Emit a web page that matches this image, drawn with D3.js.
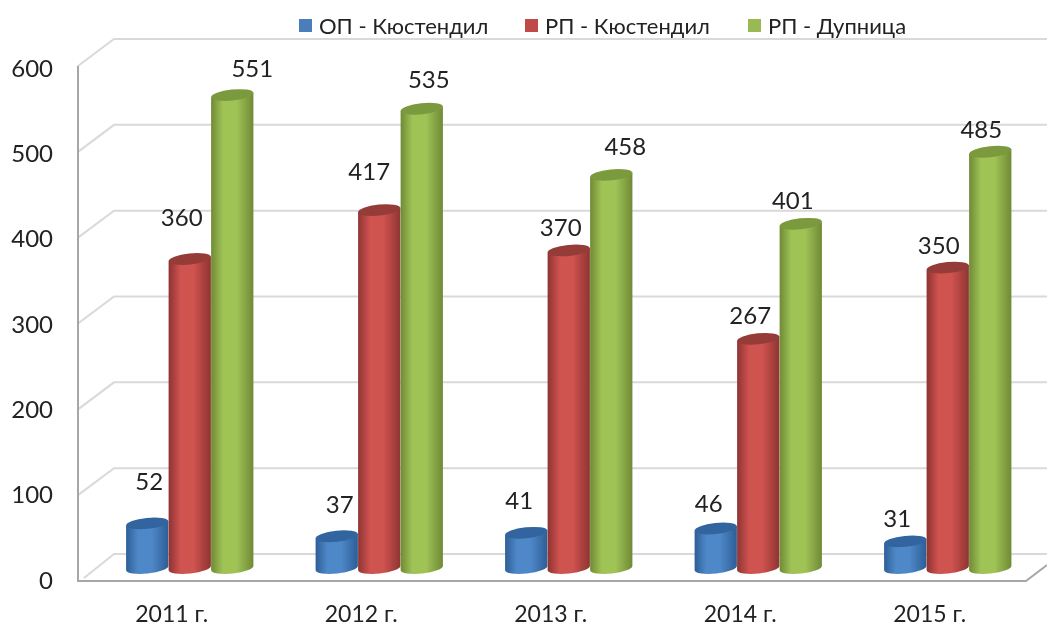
<!DOCTYPE html>
<html><head><meta charset="utf-8">
<script src="https://cdn.jsdelivr.net/npm/d3@7/dist/d3.min.js"></script>
<style>html,body{margin:0;padding:0;background:#fff}svg{display:block}text{font-family:Lato,"Open Sans",sans-serif;fill:#222}</style>
</head><body><svg id="c" width="1047" height="627"></svg>
<script>
const categories=["2011 г.","2012 г.","2013 г.","2014 г.","2015 г."];
const seriesNames=["ОП - Кюстендил","РП - Кюстендил","РП - Дупница"];
const opKyustendil=[52,37,41,46,31];
const rpKyustendil=[360,417,370,267,350];
const rpDupnitsa=[551,535,458,401,485];
const yTicks=[0,100,200,300,400,500,600];
const seriesValues=[opKyustendil,rpKyustendil,rpDupnitsa];

const palette=[
 {edge:"#2c5e96",mid:"#4f88c8",top:"#32659f",key:"#4a7ebb"},
 {edge:"#8e3432",mid:"#cf524f",top:"#953a38",key:"#be4b48"},
 {edge:"#6f8a35",mid:"#a0c356",top:"#7a9a3c",key:"#98b954"}];
// label displacement from the bar's top centre
const labelShift=[
 [[2,-42],[-8,-42],[20,-27]],
 [[3,-32],[-10,-39],[7,-29]],
 [[-7,-32],[-8,-23],[14,-29]],
 [[-7,-25],[-8,-23],[-8,-23]],
 [[-8,-23],[-9,-22],[-9,-22]]];

const svg=d3.select("#c");
const W0=78,BACK=36,DY=27,FLOOR=581,TOP=66;
const y=d3.scaleLinear().domain([0,600]).range([FLOOR,TOP]);
const yLabel=d3.scaleLinear().domain([0,600]).range([580,68]);
const x0=d3.scaleBand().domain(categories).range([95,1042.5]).paddingInner(.327).paddingOuter(.1635);
const x1=d3.scaleBand().domain(d3.range(3)).range([0,x0.bandwidth()]);
const BASE_SHIFT=13;
const vy=v=>y(v)-BASE_SHIFT;

const defs=svg.append("defs");
palette.forEach((p,i)=>{
 const g=defs.append("linearGradient").attr("id","g"+i);
 [[0,p.edge],[.28,p.mid],[.6,p.mid],[1,p.edge]].forEach(s=>g.append("stop").attr("offset",s[0]).attr("stop-color",s[1]));
});
defs.append("filter").attr("id","soft").append("feGaussianBlur").attr("stdDeviation",.5);

// walls
const wall=svg.append("g").attr("filter","url(#soft)");
yTicks.forEach(t=>{
 if(t===0)return;
 wall.append("path").attr("d",`M${W0},${y(t)}L${W0+BACK},${y(t)-DY}H1047`).attr("fill","none").attr("stroke","#d9d9d9").attr("stroke-width",2);
});
wall.append("path").attr("d",`M${W0+6},${FLOOR-3}L${W0+BACK},${y(0)-DY}H1047`).attr("fill","none").attr("stroke","#d9d9d9").attr("stroke-width",2);
wall.append("path").attr("d",`M${W0},${TOP}V${FLOOR}H1026L1047,565`).attr("fill","none").attr("stroke","#a6a6a6").attr("stroke-width",2);

// bars
const rx=x1.bandwidth()/2, ry=5.5, tilt=6, dx=rx*Math.cos(tilt*Math.PI/180), dyy=rx*Math.sin(tilt*Math.PI/180);
const bars=svg.append("g").attr("filter","url(#soft)");
seriesValues.forEach((vals,s)=>{
 vals.forEach((v,i)=>{
  const c=x0(categories[i])+x1(s)+x1.bandwidth()/2, t=vy(v), b=vy(0);
  bars.append("path").attr("fill",`url(#g${s})`).attr("d",
   `M${c-dx},${t+dyy}L${c-dx},${b+dyy}A${rx},${ry} ${-tilt} 0 0 ${c+dx},${b-dyy}L${c+dx},${t-dyy}Z`);
  bars.append("ellipse").attr("fill",palette[s].top)
   .attr("rx",rx).attr("ry",ry).attr("transform",`translate(${c},${t}) rotate(${-tilt})`);
 });
});

// y labels
svg.append("g").selectAll("text").data(yTicks).join("text")
 .attr("x",53).attr("y",d=>yLabel(d)).attr("dy","0.36em").attr("text-anchor","end").attr("font-size",24).text(d=>d);
// x labels
svg.append("g").selectAll("text").data(categories).join("text")
 .attr("x",d=>x0(d)+x0.bandwidth()/2-18).attr("y",622).attr("text-anchor","middle").attr("font-size",23).text(d=>d);
// data labels
seriesValues.forEach((vals,s)=>vals.forEach((v,i)=>{
 const c=x0(categories[i])+x1(s)+x1.bandwidth()/2;
 svg.append("text").attr("x",c+labelShift[i][s][0]).attr("y",vy(v)+labelShift[i][s][1]).attr("dy","0.36em")
  .attr("text-anchor","middle").attr("font-size",24).text(v);
}));
// legend
const keyX=[299,525,748];
seriesNames.forEach((n,i)=>{
 svg.append("rect").attr("x",keyX[i]).attr("y",19).attr("width",13).attr("height",13).attr("fill",palette[i].key);
 svg.append("text").attr("x",keyX[i]+20).attr("y",26).attr("dy","0.36em").attr("font-size",22).text(n);
});
</script></body></html>
